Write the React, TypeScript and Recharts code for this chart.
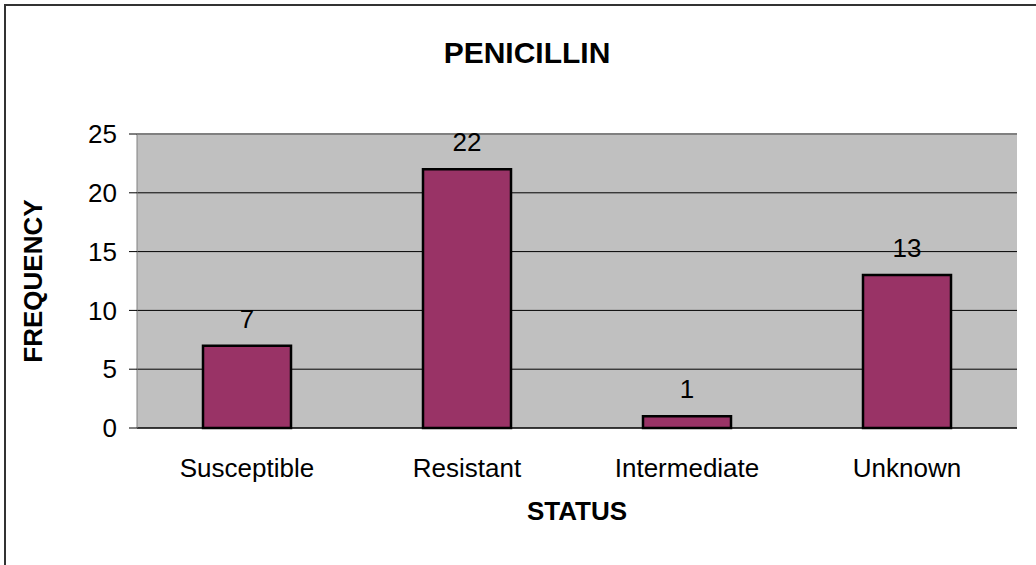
import { Bar, BarChart, CartesianGrid, LabelList, ReferenceLine, XAxis, YAxis } from "recharts"

const categories = ["Susceptible", "Resistant", "Intermediate", "Unknown"]
const frequency = [7, 22, 1, 13]
const yTicks = [0, 5, 10, 15, 20, 25]
// category boundaries, used for the tick marks between bars
const boundaryTicks = [0, 1, 2, 3, 4]

const FONT = '"Liberation Sans", Arial, sans-serif'

const chartData = categories.map((status, i) => ({ status, frequency: frequency[i] }))

export default function App() {
  return (
    <div style={{ position: "absolute", left: 0, top: 0, width: 1036, height: 565, fontFamily: FONT }}>
      <BarChart
        width={1036}
        height={565}
        data={chartData}
        margin={{ top: 134, right: 19, left: 0, bottom: 0 }}
        barCategoryGap="30%"
      >
        <CartesianGrid xAxisId="cat" vertical={false} fill="#C0C0C0" stroke="#000" fillOpacity={1} />
        <XAxis
          xAxisId="grid"
          type="number"
          domain={[0, 4]}
          ticks={boundaryTicks}
          height={0}
          axisLine={false}
          tickSize={7}
          tickLine={{ stroke: "#000" }}
          tickFormatter={() => ""}
        />
        <XAxis
          xAxisId="cat"
          dataKey="status"
          height={137}
          axisLine={{ stroke: "#000" }}
          tickLine={false}
          tickSize={0}
          tickMargin={31}
          interval={0}
          tick={{ fill: "#000", fontSize: 26, fontFamily: FONT }}
          label={{ value: "STATUS", position: "insideTop", offset: 74, fill: "#000", fontSize: 26, fontWeight: "bold", fontFamily: FONT }}
        />
        <YAxis
          width={137}
          domain={[0, 25]}
          ticks={yTicks}
          interval={0}
          axisLine={{ stroke: "#808080" }}
          tickLine={{ stroke: "#000" }}
          tickSize={8}
          tickMargin={12}
          tick={{ fill: "#000", fontSize: 26, fontFamily: FONT }}
          label={{
            content: ({ viewBox }: any) => {
              const cx = viewBox.x + 33
              const cy = viewBox.y + viewBox.height / 2
              return (
                <text
                  x={cx}
                  y={cy}
                  transform={`rotate(-90, ${cx}, ${cy})`}
                  textAnchor="middle"
                  dominantBaseline="central"
                  fill="#000"
                  fontSize={26}
                  fontWeight="bold"
                  fontFamily={FONT}
                >
                  FREQUENCY
                </text>
              )
            },
          }}
        />
        <ReferenceLine y={25} xAxisId="cat" stroke="#808080" strokeWidth={2} />
        <ReferenceLine x={4} xAxisId="grid" stroke="#808080" strokeWidth={2} />
        <Bar xAxisId="cat" dataKey="frequency" fill="#993366" stroke="#000" strokeWidth={2.5} isAnimationActive={false}>
          <LabelList dataKey="frequency" position="top" offset={18} fill="#000" fontSize={26} fontFamily={FONT} />
        </Bar>
      </BarChart>
      <svg width={1036} height={565} style={{ position: "absolute", left: 0, top: 0, pointerEvents: "none" }}>
        <line x1={5} y1={5} x2={1036} y2={5} stroke="#333" strokeWidth={2} />
        <line x1={5} y1={4} x2={5} y2={565} stroke="#333" strokeWidth={2} />
        <text x={527} y={63} textAnchor="middle" fontSize={30} fontWeight="bold" fontFamily={FONT} fill="#000">
          PENICILLIN
        </text>
      </svg>
    </div>
  )
}
